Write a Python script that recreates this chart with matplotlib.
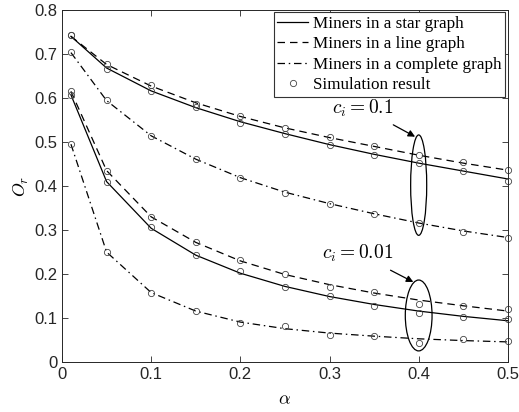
import numpy as np
import matplotlib
matplotlib.use("Agg")
import matplotlib.pyplot as plt
from matplotlib.patches import Ellipse
from matplotlib.lines import Line2D

plt.rcParams['mathtext.fontset'] = 'cm'
plt.rcParams['font.family'] = ['Liberation Sans', 'DejaVu Sans']

alpha = [0.01, 0.05, 0.1, 0.15, 0.2, 0.25, 0.3, 0.35, 0.4, 0.45, 0.5]

# c_i = 0.1
star_th_1 = [0.740, 0.668, 0.616, 0.578, 0.546, 0.519, 0.494, 0.472, 0.452, 0.434, 0.416]
star_sim_1 = [0.743, 0.666, 0.615, 0.579, 0.543, 0.518, 0.493, 0.470, 0.452, 0.434, 0.411]
line_th_1 = [0.740, 0.676, 0.627, 0.589, 0.558, 0.532, 0.510, 0.490, 0.470, 0.452, 0.436]
line_sim_1 = [0.743, 0.678, 0.629, 0.587, 0.560, 0.532, 0.511, 0.492, 0.471, 0.454, 0.436]
comp_th_1 = [0.703, 0.594, 0.514, 0.461, 0.419, 0.386, 0.360, 0.337, 0.316, 0.298, 0.283]
comp_sim_1 = [0.705, 0.595, 0.513, 0.461, 0.418, 0.385, 0.360, 0.336, 0.315, 0.295, 0.282]

# c_i = 0.01
star_th_01 = [0.607, 0.410, 0.304, 0.243, 0.202, 0.172, 0.149, 0.131, 0.116, 0.104, 0.094]
star_sim_01 = [0.607, 0.410, 0.306, 0.243, 0.206, 0.170, 0.150, 0.127, 0.111, 0.102, 0.098]
line_th_01 = [0.615, 0.435, 0.330, 0.272, 0.230, 0.199, 0.176, 0.157, 0.141, 0.128, 0.116]
line_sim_01 = [0.615, 0.435, 0.330, 0.272, 0.231, 0.200, 0.170, 0.159, 0.132, 0.127, 0.120]
comp_th_01 = [0.495, 0.250, 0.158, 0.116, 0.091, 0.076, 0.066, 0.059, 0.053, 0.049, 0.046]
comp_sim_01 = [0.495, 0.251, 0.158, 0.116, 0.088, 0.082, 0.061, 0.059, 0.044, 0.052, 0.048]

legend_labels = ["Miners in a star graph", "Miners in a line graph",
                 "Miners in a complete graph", "Simulation result"]

fig = plt.figure(figsize=(5.19, 4.12), dpi=100)
ax = fig.add_axes([0.1195, 0.121, 0.859, 0.855])

lw = 0.9
dash = (0, (6, 4))
dashdot = (0, (6, 3, 1.2, 3))
for th, ls in [(star_th_1, '-'), (line_th_1, dash), (comp_th_1, dashdot),
               (star_th_01, '-'), (line_th_01, dash), (comp_th_01, dashdot)]:
    ax.plot(alpha, th, color='black', linestyle=ls, linewidth=lw)

for sim in [star_sim_1, line_sim_1, comp_sim_1, star_sim_01, line_sim_01, comp_sim_01]:
    ax.plot(alpha, sim, linestyle='none', marker='o', markersize=4.5,
            markerfacecolor='none', markeredgecolor='#444444', markeredgewidth=0.6,
            clip_on=False)

ax.add_patch(Ellipse((0.4, 0.402), 0.018, 0.228, fill=False, edgecolor='black', linewidth=0.9))
ax.add_patch(Ellipse((0.4, 0.106), 0.030, 0.161, fill=False, edgecolor='black', linewidth=0.9))

ax.annotate(r"$c_i = 0.1$", xy=(0.396, 0.512), xytext=(0.337, 0.577),
            fontsize=14, ha='center', va='center',
            arrowprops=dict(arrowstyle='-|>', color='black', lw=0.9, shrinkA=5, shrinkB=0,
                            mutation_scale=10))
ax.annotate(r"$c_i = 0.01$", xy=(0.394, 0.182), xytext=(0.331, 0.248),
            fontsize=14, ha='center', va='center',
            arrowprops=dict(arrowstyle='-|>', color='black', lw=0.9, shrinkA=6, shrinkB=0,
                            mutation_scale=10))

handles = [Line2D([], [], color='black', linestyle='-', linewidth=lw),
           Line2D([], [], color='black', linestyle=dash, linewidth=lw),
           Line2D([], [], color='black', linestyle=dashdot, linewidth=lw),
           Line2D([], [], linestyle='none', marker='o', markersize=4.5,
                  markerfacecolor='none', markeredgecolor='#444444', markeredgewidth=0.6)]
leg = ax.legend(handles, legend_labels, loc='upper right', fancybox=False,
                prop={'family': 'Liberation Serif', 'size': 12.3},
                handlelength=1.8, handletextpad=0.3, borderpad=0.2,
                labelspacing=0.26, borderaxespad=0.15, framealpha=1)
leg.get_frame().set_edgecolor('#333333')
leg.get_frame().set_linewidth(0.8)

ax.set_xlim(0, 0.5)
ax.set_ylim(0, 0.8)
ax.set_xticks(np.arange(0, 0.51, 0.1))
ax.set_yticks(np.arange(0, 0.81, 0.1))
ax.set_xticklabels(['0', '0.1', '0.2', '0.3', '0.4', '0.5'])
ax.set_yticklabels(['0', '0.1', '0.2', '0.3', '0.4', '0.5', '0.6', '0.7', '0.8'])
ax.tick_params(direction='in', length=4, width=0.6, labelsize=12, colors='#262626',
               top=True, right=True)
for sp in ax.spines.values():
    sp.set_color('#262626')
    sp.set_linewidth(0.7)
ax.set_xlabel(r"$\alpha$", fontsize=13, labelpad=7)
ax.set_ylabel(r"$O_r$", fontsize=13, labelpad=2)

fig.savefig("out.png", dpi=100)
